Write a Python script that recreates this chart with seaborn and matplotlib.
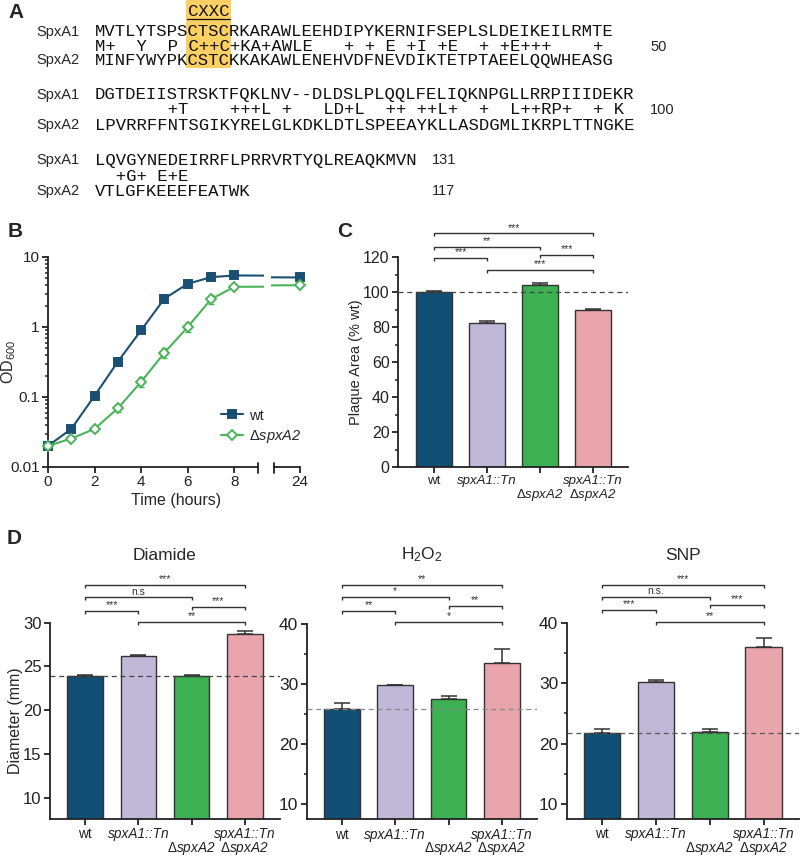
import seaborn as sns
import matplotlib.pyplot as plt
from matplotlib.lines import Line2D
from matplotlib.patches import Rectangle
from matplotlib.ticker import MultipleLocator

sns.set_style("ticks")
plt.rcParams["font.family"] = ["Liberation Sans", "DejaVu Sans"]
plt.rcParams["mathtext.fontset"] = "custom"
plt.rcParams["mathtext.rm"] = "Liberation Sans"
plt.rcParams["mathtext.it"] = "Liberation Sans:italic"
plt.rcParams["axes.linewidth"] = 1.3
plt.rcParams["axes.edgecolor"] = "#222222"
for k in ("xtick", "ytick"):
    plt.rcParams[f"{k}.major.width"] = 1.3
    plt.rcParams[f"{k}.minor.width"] = 1.1
    plt.rcParams[f"{k}.major.size"] = 4
    plt.rcParams[f"{k}.minor.size"] = 2.5
    plt.rcParams[f"{k}.color"] = "#222222"

# =====================
# Data
# =====================
# A: SpxA1 / SpxA2 alignment
row_spxa1 = ["MVTLYTSPSCTSCRKARAWLEEHDIPYKERNIFSEPLSLDEIKEILRMTE",
             "DGTDEIISTRSKTFQKLNV--DLDSLPLQQLFELIQKNPGLLRRPIIIDEKR",
             "LQVGYNEDEIRRFLPRRVRTYQLREAQKMVN"]
row_match = ["M+  Y  P C++C+KA+AWLE   + + E +I +E  + +E+++    + ",
             "       +T    +++L +   LD+L  ++ ++L+  +  L++RP+  + K ",
             "  +G+ E+E"]
row_spxa2 = ["MINFYWYPKCSTCKKAKAWLENEHVDFNEVDIKTETPTAEELQQWHEASG",
             "LPVRRFFNTSGIKYRELGLKDKLDTLSPEEAYKLLASDGMLIKRPLTTNGKE",
             "VTLGFKEEEFEATWK"]
end_spxa1 = ["", "", "131"]
end_match = ["50", "100", ""]
end_spxa2 = ["", "", "117"]
motif_label = "CXXC"

# B: growth curves
time_h = [0, 1, 2, 3, 4, 5, 6, 7, 8, 24]
od_wt = [0.020, 0.035, 0.104, 0.32, 0.90, 2.55, 4.15, 5.15, 5.45, 5.1]
od_wt_err = [0.001, 0.002, 0.004, 0.01, 0.03, 0.08, 0.12, 0.15, 0.15, 0.15]
od_spxa2 = [0.020, 0.0255, 0.035, 0.069, 0.165, 0.43, 1.0, 2.5, 3.75, 3.95]
od_spxa2_err = [0.001, 0.0015, 0.002, 0.008, 0.025, 0.07, 0.15, 0.4, 0.15, 0.2]

# C / D: strains
strains = ["wt", "spxA1::Tn", "ΔspxA2", "spxA1::Tn ΔspxA2"]
strain_ticks = ["wt", "spxA1::Tn", "\n$\\Delta$spxA2", "spxA1::Tn\n$\\Delta$spxA2"]
bar_colors = ["#124f74", "#c1b8d7", "#3cb052", "#e9a4ac"]

plaque_area = [100.0, 82.2, 104.2, 89.5]
plaque_sem = [0.6, 1.3, 1.1, 1.0]
plaque_sig = [(0, 3, 133.5, "***"), (0, 2, 125.9, "**"), (0, 1, 119.6, "***"),
              (2, 3, 121.1, "***"), (1, 3, 112.6, "***")]

stress_names = ["Diamide", "H$_2$O$_2$", "SNP"]
diam_diamide = [23.9, 26.2, 23.9, 28.75]
diam_diamide_sem = [0.15, 0.15, 0.15, 0.25]
diam_h2o2 = [25.9, 29.8, 27.5, 33.55]
diam_h2o2_sem = [0.95, 0.05, 0.45, 2.2]
diam_snp = [21.8, 30.2, 21.9, 36.05]
diam_snp_sem = [0.7, 0.45, 0.45, 1.45]
sig_diamide = [(0, 3, 34.3, "***"), (0, 2, 32.9, "n.s"), (0, 1, 31.35, "***"),
               (2, 3, 31.8, "***"), (1, 3, 30.1, "**")]
sig_h2o2 = [(0, 3, 46.5, "**"), (0, 2, 44.5, "*"), (0, 1, 42.15, "**"),
            (2, 3, 43.0, "**"), (1, 3, 40.3, "*")]
sig_snp = [(0, 3, 46.4, "***"), (0, 2, 44.4, "n.s."), (0, 1, 42.2, "***"),
           (2, 3, 43.0, "***"), (1, 3, 40.2, "**")]

# =====================
# Figure helpers (pixel layout)
# =====================
W, H = 800, 856
fig = plt.figure(figsize=(W / 100, H / 100), dpi=100)
fig.patch.set_facecolor("white")


def px_axes(x0, y0, x1, y1):
    return fig.add_axes([x0 / W, 1 - y1 / H, (x1 - x0) / W, (y1 - y0) / H])


def px_text(x, y, s, **kw):
    return fig.text(x / W, 1 - y / H, s, **kw)


def bracket(ax, i, j, y, label, dy):
    ax.plot([i, i, j, j], [y - dy, y, y, y - dy], color="#333333", lw=1.0,
            clip_on=False, solid_capstyle="butt")
    ax.text((i + j) / 2, y + dy * 0.25, label, ha="center", va="bottom",
            fontsize=7.5, color="#333333", clip_on=False)


def style_ticklabels(ax, size, spacing):
    ax.set_xticks(range(len(strains)))
    ax.set_xticklabels(strain_ticks, fontsize=size, linespacing=spacing)
    for lbl in ax.get_xticklabels():
        if lbl.get_text() != "wt":
            lbl.set_fontstyle("italic")
    ax.tick_params(axis="x", pad=2)


for letter, (x, y) in zip("ABCD", [(8, 12), (8, 232), (337, 232), (7, 538)]):
    px_text(x, y, letter, fontsize=15, fontweight="bold", va="center", ha="left")

# =====================
# A: alignment text
# =====================
CH = 10.35
SEQ_X = 94.6
LAB_X = 36
mono = dict(family="Liberation Mono", fontsize=12.4, va="center", ha="left", color="#111111")
row_y = [(31.7, 46.7, 60), (95, 110, 125), (160, 176.7, 191)]

hl_x0 = SEQ_X + 9 * CH - 1.5
hl_w = 4 * CH + 3
fig.add_artist(Rectangle((hl_x0 / W, 1 - 68 / H), hl_w / W, 68 / H,
                         transform=fig.transFigure, facecolor="#fccf62",
                         edgecolor="none", zorder=0))
px_text(hl_x0 + hl_w / 2, 11.5, motif_label, ha="center", va="center",
        family="Liberation Mono", fontsize=12.4, color="#111111")
fig.add_artist(Line2D([(hl_x0 + 1) / W, (hl_x0 + hl_w - 1) / W], [1 - 19 / H, 1 - 19 / H],
                      transform=fig.transFigure, color="#111111", lw=0.9))

for k in range(3):
    y1, ym, y2 = row_y[k]
    px_text(LAB_X, y1, "SpxA1", fontsize=10.5, va="center")
    px_text(LAB_X, y2, "SpxA2", fontsize=10.5, va="center")
    px_text(SEQ_X, y1, row_spxa1[k], **mono)
    px_text(SEQ_X, ym, row_match[k], **mono)
    px_text(SEQ_X, y2, row_spxa2[k], **mono)
    num_x = 432 if k == 2 else 650
    for s, yy in ((end_spxa1[k], y1), (end_match[k], ym), (end_spxa2[k], y2)):
        if s:
            px_text(num_x, yy, s, fontsize=10.5, va="center")

# =====================
# B: growth curves with broken axis
# =====================
ax_b = px_axes(41, 257, 263.5, 467)
ax_b2 = px_axes(271, 257, 306, 467)
series = [(od_wt, od_wt_err, "#1b4f74", "s", "#1b4f74", 6.0),
          (od_spxa2, od_spxa2_err, "#4cb35b", "D", "white", 5.5)]
for ax in (ax_b, ax_b2):
    for od, err, col, mk, mfc, ms in series:
        ax.errorbar(time_h, od, yerr=err, fmt="none", ecolor=col, elinewidth=1.0,
                    capsize=2.5, capthick=1.0, zorder=2)
        sns.lineplot(x=time_h, y=od, ax=ax, color=col, marker=mk, markersize=ms,
                     markerfacecolor=mfc, markeredgecolor=col, markeredgewidth=1.4,
                     linewidth=1.5, errorbar=None, zorder=3)
    ax.set_yscale("log")
    ax.set_ylim(0.01, 10)
    for s in ("top", "right"):
        ax.spines[s].set_visible(False)

ax_b.set_xlim(-0.3, 9.25)
ax_b.spines["left"].set_position(("data", 0))
ax_b.spines["bottom"].set_bounds(0, 9)
ax_b.set_xticks([0, 2, 4, 6, 8])
ax_b.set_yticks([0.01, 0.1, 1, 10])
ax_b.set_yticklabels(["0.01", "0.1", "1", "10"])
ax_b.tick_params(labelsize=11, pad=2)
ax_b.set_ylabel("OD$_{600}$", fontsize=11.5)
ax_b.yaxis.set_label_coords(-0.103, 0.5)

ax_b2.set_xlim(22.76, 24.26)
ax_b2.spines["left"].set_visible(False)
ax_b2.spines["bottom"].set_bounds(22.9, 24)
ax_b2.set_xticks([24])
ax_b2.tick_params(labelsize=11, pad=2)
ax_b2.yaxis.set_visible(False)
ax_b2.set_facecolor("none")
for ax, xb in ((ax_b, 9), (ax_b2, 22.9)):
    ax.plot([xb, xb], [-6 / 210, 4 / 210], transform=ax.get_xaxis_transform(),
            color="#222222", lw=1.3, clip_on=False)

px_text(176, 500, "Time (hours)", fontsize=11.5, ha="center", va="center")

handles = [Line2D([], [], color=c, marker=m, markersize=ms, markerfacecolor=f,
                  markeredgecolor=c, markeredgewidth=1.4, lw=1.5)
           for _, _, c, m, f, ms in series]
leg = fig.legend(handles, ["wt", "$\\Delta$spxA2"], loc="center left",
                 bbox_to_anchor=(221 / W, 1 - 427 / H), frameon=False,
                 fontsize=10.5, handlelength=1.5, handletextpad=0.4,
                 labelspacing=0.4, borderpad=0, borderaxespad=0)
leg.get_texts()[1].set_fontstyle("italic")

# =====================
# C: plaque area
# =====================
ax_c = px_axes(398, 257, 628, 467)
sns.barplot(x=strains, y=plaque_area, hue=strains, palette=bar_colors, width=0.67,
            saturation=1, edgecolor="#333333", linewidth=1.0, errorbar=None,
            legend=False, ax=ax_c)
ax_c.errorbar(range(4), plaque_area, yerr=[[0] * 4, plaque_sem], fmt="none",
              ecolor="#333333", elinewidth=1.1, capsize=6, capthick=1.1)
ax_c.axhline(100, color="#444444", lw=0.9, ls=(0, (4, 3)), zorder=4)
ax_c.set_xlim(-0.68, 3.66)
ax_c.set_ylim(0, 120)
ax_c.yaxis.set_major_locator(MultipleLocator(20))
ax_c.yaxis.set_minor_locator(MultipleLocator(10))
ax_c.tick_params(axis="y", labelsize=11.5, pad=2)
style_ticklabels(ax_c, 9.5, 0.95)
ax_c.set_ylabel("Plaque Area (% wt)", fontsize=10.5)
ax_c.yaxis.set_label_coords(-0.152, 0.5)
for s in ("top", "right"):
    ax_c.spines[s].set_visible(False)
for i, j, y, lab in plaque_sig:
    bracket(ax_c, i, j, y, lab, 3 * 120 / 210)

# =====================
# D: stress zone diameters
# =====================
d_boxes = [(50, 622.7, 280, 819), (306.7, 624, 537, 819.3), (566.7, 623.3, 799, 819)]
d_ylims = [(7.55, 30), (7.45, 40), (7.45, 40)]
d_vals = [diam_diamide, diam_h2o2, diam_snp]
d_sems = [diam_diamide_sem, diam_h2o2_sem, diam_snp_sem]
d_sigs = [sig_diamide, sig_h2o2, sig_snp]
d_ytick = [(5, None), (10, 5), (10, 5)]
d_ylab_size = [12, 12.5, 12.5]
d_dash = ["#444444", "#888888", "#555555"]

for k in range(3):
    x0, y0, x1, y1 = d_boxes[k]
    ax = px_axes(x0, y0, x1, y1)
    sns.barplot(x=strains, y=d_vals[k], hue=strains, palette=bar_colors, width=0.67,
                saturation=1, edgecolor="#333333", linewidth=1.0, errorbar=None,
                legend=False, ax=ax)
    ax.errorbar(range(4), d_vals[k], yerr=[[0] * 4, d_sems[k]], fmt="none",
                ecolor="#333333", elinewidth=1.1, capsize=6, capthick=1.1)
    ax.axhline(d_vals[k][0], color=d_dash[k], lw=0.9, ls=(0, (4, 3)), zorder=4)
    ax.set_xlim(-0.66, 3.66)
    ax.set_ylim(*d_ylims[k])
    major, minor = d_ytick[k]
    ax.yaxis.set_major_locator(MultipleLocator(major))
    if minor:
        ax.yaxis.set_minor_locator(MultipleLocator(minor))
    ax.set_yticks([t for t in ax.get_yticks() if t >= 10 and t <= d_ylims[k][1]])
    ax.tick_params(axis="y", labelsize=d_ylab_size[k], pad=2)
    style_ticklabels(ax, 9.8, 0.85)
    for s in ("top", "right"):
        ax.spines[s].set_visible(False)
    dy = 3 * (d_ylims[k][1] - d_ylims[k][0]) / (y1 - y0)
    for i, j, y, lab in d_sigs[k]:
        bracket(ax, i, j, y, lab, dy)
    px_text((x0 + x1) / 2, 555, stress_names[k], fontsize=12.5, ha="center", va="center")
    if k == 0:
        ax.set_ylabel("Diameter (mm)", fontsize=11.5)
        ax.yaxis.set_label_coords(-0.117, 0.5)

fig.savefig("out.png", dpi=100, facecolor="white")
